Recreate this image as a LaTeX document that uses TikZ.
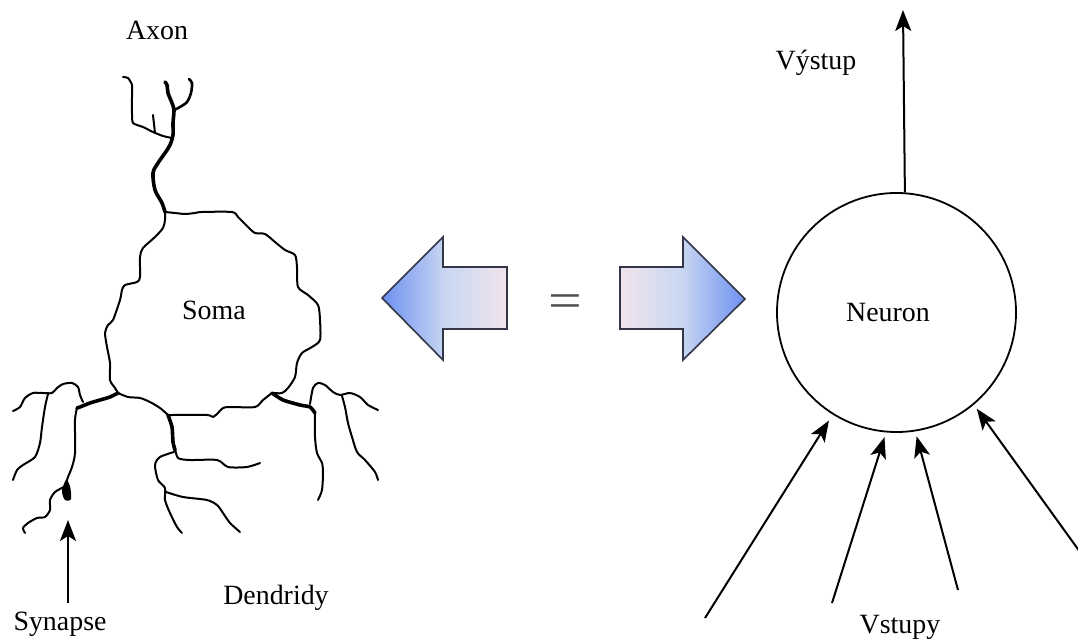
\documentclass[tikz,border=0pt]{standalone}
\usepackage{fontspec}
\setmainfont{Liberation Serif}
\usetikzlibrary{arrows.meta}
\definecolor{arrowblue}{RGB}{108,144,240}
\definecolor{arrowmid}{RGB}{200,214,242}
\definecolor{arrowpink}{RGB}{242,228,236}
\definecolor{arrowedge}{RGB}{50,54,72}
\tikzset{
  lbl/.style={font=\fontsize{28}{32}\selectfont, text=black, inner sep=0pt, anchor=base},
  arr/.style={line width=2bp, -{Stealth[length=21bp,width=16bp,inset=5bp]}},
  fiber/.style={line width=2bp, line cap=round, line join=round},
  trunk/.style={line width=3.6bp, line cap=round, line join=round},
  blockarrow/.style={draw=arrowedge, line width=1.6bp, line join=miter},
}
\begin{document}
\begin{tikzpicture}[x=1bp,y=-1bp]
\useasboundingbox (0,0) rectangle (1078,639);

% ---------------- biological neuron ----------------
% soma outline
\draw[fiber] plot[smooth, tension=0.45] coordinates {
  (165,212) (175,213) (185,214) (195,213) (202,212) (232,212) (238,217) (248,227)
  (255,233) (265,234) (275,242) (285,250) (295,255) (297,267) (298,287) (308,295)
  (318,305) (320,320) (320,340) (312,347) (302,353) (297,363) (295,377) (288,388)
  (282,393) (272,393)};
\draw[fiber] plot[smooth, tension=0.45] coordinates {
  (272,393) (263,400) (255,407) (230,407) (223,408) (218,413) (213,417) (207,415)
  (173,415) (168,415)};
\draw[fiber] plot[smooth, tension=0.45] coordinates {
  (168,415) (160,408) (150,402) (140,398) (128,397) (118,393)};
\draw[fiber] plot[smooth, tension=0.45] coordinates {
  (165,212) (165,220) (163,228) (155,237) (143,248) (140,257) (140,277) (137,282)
  (125,285) (122,290) (120,300) (113,320) (108,325) (105,333) (107,347) (110,363)
  (110,380) (115,388) (118,393)};

% axon
\draw[trunk] plot[smooth, tension=0.5] coordinates {
  (165,212) (162,203) (155,190) (153,173) (158,163) (165,153) (170,145) (173,135)
  (173,123) (174,110) (172,103) (168,93) (167,85) (165,82)};
\draw[line width=2.6bp, line cap=round] plot[smooth, tension=0.5] coordinates {
  (174,110) (180,107) (187,102) (191,93) (192,83) (189,79)};
\draw[fiber] plot[smooth, tension=0.4] coordinates {
  (172,138) (163,136) (153,132) (143,127) (133,123) (132,113) (132,97) (132,85)
  (128,78) (123,77)};
\draw[fiber] plot[smooth, tension=0.4] coordinates {(155,133) (154,124) (153,115)};

% left dendrites
\draw[trunk] plot[smooth, tension=0.4] coordinates {
  (118,393) (110,397) (100,400) (90,403) (80,407) (77,408)};
\draw[fiber] plot[smooth, tension=0.45] coordinates {
  (83,402) (80,395) (78,387) (72,383) (63,384) (57,388) (52,393) (43,393) (33,393)
  (25,398) (20,407) (13,411)};
\draw[fiber] plot[smooth, tension=0.45] coordinates {
  (48,394) (45,407) (42,427) (40,443) (35,457) (23,465) (17,470) (13,480)};
\draw[fiber] plot[smooth, tension=0.45] coordinates {
  (77,408) (75,420) (75,453) (72,467) (68,477) (66,483)};
\draw[fiber] plot[smooth, tension=0.45] coordinates {
  (64,487) (55,492) (50,500) (50,510) (45,517) (37,518) (28,523) (23,528) (25,533)};
% synapse knob
\fill plot[smooth cycle, tension=0.5] coordinates {
  (66,480) (70,486) (71,499) (65,500) (62,491)};

% middle dendrites
\draw[trunk] plot[smooth, tension=0.4] coordinates {
  (168,415) (172,427) (173,442) (175,450)};
\draw[fiber] plot[smooth, tension=0.45] coordinates {
  (175,448) (178,458) (190,460) (217,460) (228,467) (247,467) (260,463)};
\draw[fiber] plot[smooth, tension=0.45] coordinates {
  (174,452) (160,457) (155,465) (158,480) (165,488) (165,500) (170,513) (177,527)
  (182,533)};
\draw[fiber] plot[smooth, tension=0.45] coordinates {
  (166,492) (183,497) (207,500) (217,505) (223,513) (230,523) (240,532)};

% right dendrites
\draw[trunk] plot[smooth, tension=0.4] coordinates {
  (272,393) (283,400) (300,405) (310,407) (315,413)};
\draw[fiber] plot[smooth, tension=0.45] coordinates {
  (310,404) (313,388) (318,383) (325,385) (333,392) (340,395) (350,393) (360,397)
  (368,405) (378,410)};
\draw[fiber] plot[smooth, tension=0.45] coordinates {
  (342,396) (345,407) (348,423) (352,437) (357,452) (365,460) (375,472) (378,480)};
\draw[fiber] plot[smooth, tension=0.45] coordinates {
  (315,413) (315,437) (317,453) (322,463) (323,473) (322,490) (318,500)};

% labels of the biological neuron
\node[lbl] (axon) at (157,40) {Axon};
\node[lbl] (soma) at (214,320) {Soma};
\node[lbl] (dendrity) at (276,604) {Dendridy};
\node[lbl] (synapse) at (60,630) {Synapse};
\coordinate (synTail) at (68,603);
\coordinate (synTip) at (68,520);
\draw[arr] (synTail) -- (synTip);

% ---------------- block arrows and equals sign ----------------
\path[blockarrow, left color=arrowblue, right color=arrowpink, middle color=arrowmid]
  (382,298) -- (443,237) -- (443,267) -- (507,267) -- (507,329) -- (443,329)
  -- (443,360) -- cycle;
\path[blockarrow, left color=arrowpink, right color=arrowblue, middle color=arrowmid]
  (745,299) -- (683,237) -- (683,267) -- (620,267) -- (620,329) -- (683,329)
  -- (683,360) -- cycle;
\node[font=\fontsize{50}{54}\selectfont, text=black!70, inner sep=0pt, xscale=1.2] (eq) at (565,306) {=};

% ---------------- artificial neuron ----------------
\node[circle, draw, line width=1.8bp, minimum size=239bp, inner sep=0pt] (neuron) at (896.5,312.5) {};
\node[lbl] (neuronlbl) at (888,322) {Neuron};
\coordinate (outTip) at (903,10);
\draw[arr] (neuron.86.9) -- (outTip);
\node[lbl] (vystup) at (816,70) {Výstup};

\coordinate (in1) at (705,618);
\coordinate (in2) at (832,603);
\coordinate (in3) at (958,590);
\coordinate (in4) at (1080,552);
\draw[arr, shorten >=7bp] (in1) -- (neuron.238.7);
\draw[arr, shorten >=5bp] (in2) -- (neuron.265.6);
\draw[arr, shorten >=5bp] (in3) -- (neuron.279.4);
\draw[arr, shorten >=5bp] (in4) -- (neuron.310.1);
\node[lbl] (vstupy) at (900,633) {Vstupy};
\end{tikzpicture}
\end{document}
